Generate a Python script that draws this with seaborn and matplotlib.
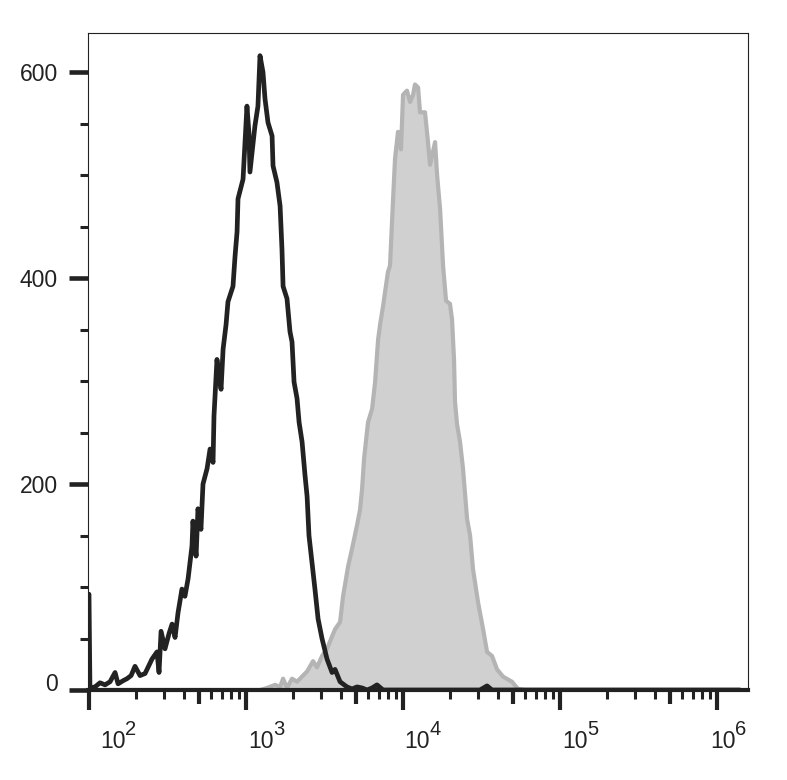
import numpy as np
import pandas as pd
import seaborn as sns
import matplotlib.pyplot as plt
from matplotlib.ticker import FixedLocator, LogLocator, NullFormatter, NullLocator, MultipleLocator
from matplotlib.transforms import ScaledTranslation

sns.set_style("ticks")
plt.rcParams['font.family'] = ['Liberation Sans', 'DejaVu Sans']

# control (black outline): channel position in decades (log10 intensity) and event counts
black_log_x = [2.000, 2.006, 2.038, 2.070, 2.102, 2.134, 2.166, 2.185, 2.217, 2.242,
               2.268, 2.293, 2.325, 2.357, 2.401, 2.433, 2.446, 2.459, 2.484, 2.510,
               2.529, 2.548, 2.567, 2.592, 2.611, 2.631, 2.656, 2.662, 2.682, 2.694,
               2.713, 2.726, 2.752, 2.771, 2.790, 2.796, 2.815, 2.828, 2.841, 2.854,
               2.873, 2.885, 2.917, 2.930, 2.943, 2.949, 2.981, 3.006, 3.019, 3.025,
               3.057, 3.076, 3.089, 3.108, 3.121, 3.140, 3.166, 3.172, 3.197, 3.217,
               3.229, 3.236, 3.261, 3.280, 3.293, 3.306, 3.325, 3.338, 3.357, 3.376,
               3.389, 3.401, 3.420, 3.439, 3.459, 3.484, 3.516, 3.548, 3.567, 3.599,
               3.643, 3.675, 3.707, 3.739, 3.771, 3.803, 3.834, 3.873, 3.981, 4.299,
               4.490, 4.535, 4.567, 6.146]
black_counts = [93, 2, 3, 7, 5, 8, 17, 6, 9, 11,
                14, 23, 14, 16, 30, 37, 17, 57, 40, 55,
                64, 51, 75, 98, 91, 108, 140, 164, 130, 176,
                156, 200, 215, 234, 221, 266, 321, 305, 292, 331,
                355, 377, 392, 421, 445, 477, 496, 567, 540, 503,
                548, 567, 616, 600, 574, 551, 538, 509, 493, 470,
                428, 392, 380, 348, 338, 299, 283, 260, 241, 208,
                188, 150, 124, 98, 69, 50, 30, 17, 20, 8,
                3, 1, 3, 2, 0, 2, 5, 0, 0, 0,
                0, 4, 0, 0]

# stained sample (grey filled)
gray_log_x = [2.000, 2.707, 3.089, 3.134, 3.185, 3.217, 3.236, 3.261, 3.293, 3.325,
              3.363, 3.389, 3.408, 3.427, 3.452, 3.484, 3.516, 3.548, 3.567, 3.599,
              3.618, 3.650, 3.675, 3.707, 3.726, 3.739, 3.752, 3.777, 3.803, 3.822,
              3.841, 3.854, 3.873, 3.885, 3.904, 3.917, 3.936, 3.949, 3.968, 3.987,
              4.000, 4.025, 4.045, 4.064, 4.076, 4.096, 4.108, 4.140, 4.159, 4.172,
              4.204, 4.217, 4.236, 4.255, 4.274, 4.299, 4.312, 4.325, 4.331, 4.344,
              4.363, 4.382, 4.408, 4.427, 4.446, 4.478, 4.510, 4.535, 4.567, 4.599,
              4.637, 4.694, 4.732, 4.777, 6.146]
gray_counts = [0, 0, 0, 2, 5, 3, 11, 2, 11, 8,
               14, 18, 23, 28, 22, 33, 40, 52, 59, 66,
               91, 120, 137, 160, 175, 195, 225, 260, 273, 299,
               340, 355, 373, 386, 406, 412, 475, 516, 542, 525,
               578, 582, 571, 578, 588, 585, 561, 561, 532, 510,
               532, 500, 467, 412, 378, 375, 360, 320, 280, 258,
               241, 215, 166, 150, 117, 85, 59, 37, 33, 20,
               13, 8, 1, 0, 0]

x_ticks = [1e2, 1e3, 1e4, 1e5, 1e6]
x_exponents = ['2', '3', '4', '5', '6']
half_ticks = [5e2, 5e3, 5e4, 5e5]
y_ticks = [0, 200, 400, 600]

black = pd.DataFrame({"x": 10 ** np.array(black_log_x), "count": black_counts})
gray = pd.DataFrame({"x": 10 ** np.array(gray_log_x), "count": gray_counts})

fig = plt.figure(figsize=(7.87, 7.80), dpi=100)
ax = fig.add_axes([88 / 787, 90 / 780, 660 / 787, 657 / 780])

ax.fill_between(gray["x"], gray["count"], color='#d0d0d0', lw=0, zorder=1)
sns.lineplot(data=gray, x="x", y="count", ax=ax, color='#b4b4b4', linewidth=3.0, zorder=2)
sns.lineplot(data=black, x="x", y="count", ax=ax, color='#222222', linewidth=3.4, zorder=3)

ax.set_xscale('log')
ax.set_xlim(10 ** (2 - 1 / 157), 10 ** 6.197)
ax.set_ylim(0, 638)
ax.set_xlabel('')
ax.set_ylabel('')

ax.xaxis.set_major_locator(FixedLocator(x_ticks))
ax.xaxis.set_major_formatter(NullFormatter())
ax.xaxis.set_minor_locator(LogLocator(base=10, subs=(2, 3, 4, 6, 7, 8, 9), numticks=30))
ax.xaxis.set_minor_formatter(NullFormatter())
ax.set_yticks(y_ticks)
ax.yaxis.set_minor_locator(MultipleLocator(50))

# lengths in points (px * 0.72)
ax.tick_params(axis='x', which='major', length=14.4, width=3, color='#222222')
ax.tick_params(axis='x', which='minor', length=6.5, width=2.2, color='#222222')
ax.tick_params(axis='y', which='major', length=13.7, width=3.3, color='#222222', pad=8,
               labelsize=16.5, labelcolor='#222222')
ax.tick_params(axis='y', which='minor', length=5.8, width=2.2, color='#222222')

sec = ax.secondary_xaxis('bottom')
sec.set_xticks(half_ticks)
sec.xaxis.set_minor_locator(NullLocator())
sec.tick_params(axis='x', length=10, width=3, color='#222222', labelbottom=False)
sec.spines['bottom'].set_visible(False)

for side in ['left', 'top', 'right']:
    ax.spines[side].set_linewidth(0.8)
    ax.spines[side].set_color('#222222')
ax.spines['bottom'].set_linewidth(3)
ax.spines['bottom'].set_color('#222222')
ax.spines['bottom'].set_zorder(4)

# decade labels "10" with a large exponent, as the cytometry software draws them
label_shift_px = [11, 2, 1, 2, -7]
for tick, exp, dx in zip(x_ticks, x_exponents, label_shift_px):
    ax.annotate('10', xy=(tick, 0), xycoords=('data', 'axes fraction'),
                xytext=(dx * 0.72, -58 * 0.72), textcoords='offset points',
                ha='left', va='baseline', fontsize=16.5, color='#222222')
    ax.annotate(exp, xy=(tick, 0), xycoords=('data', 'axes fraction'),
                xytext=((dx + 25) * 0.72, -45 * 0.72), textcoords='offset points',
                ha='left', va='baseline', fontsize=14.5, color='#222222')

yt = ax.yaxis.get_major_ticks()
yt[0].label1.set_transform(yt[0].label1.get_transform() + ScaledTranslation(0, 8 / 100, fig.dpi_scale_trans))

fig.savefig('out.png', dpi=100)
